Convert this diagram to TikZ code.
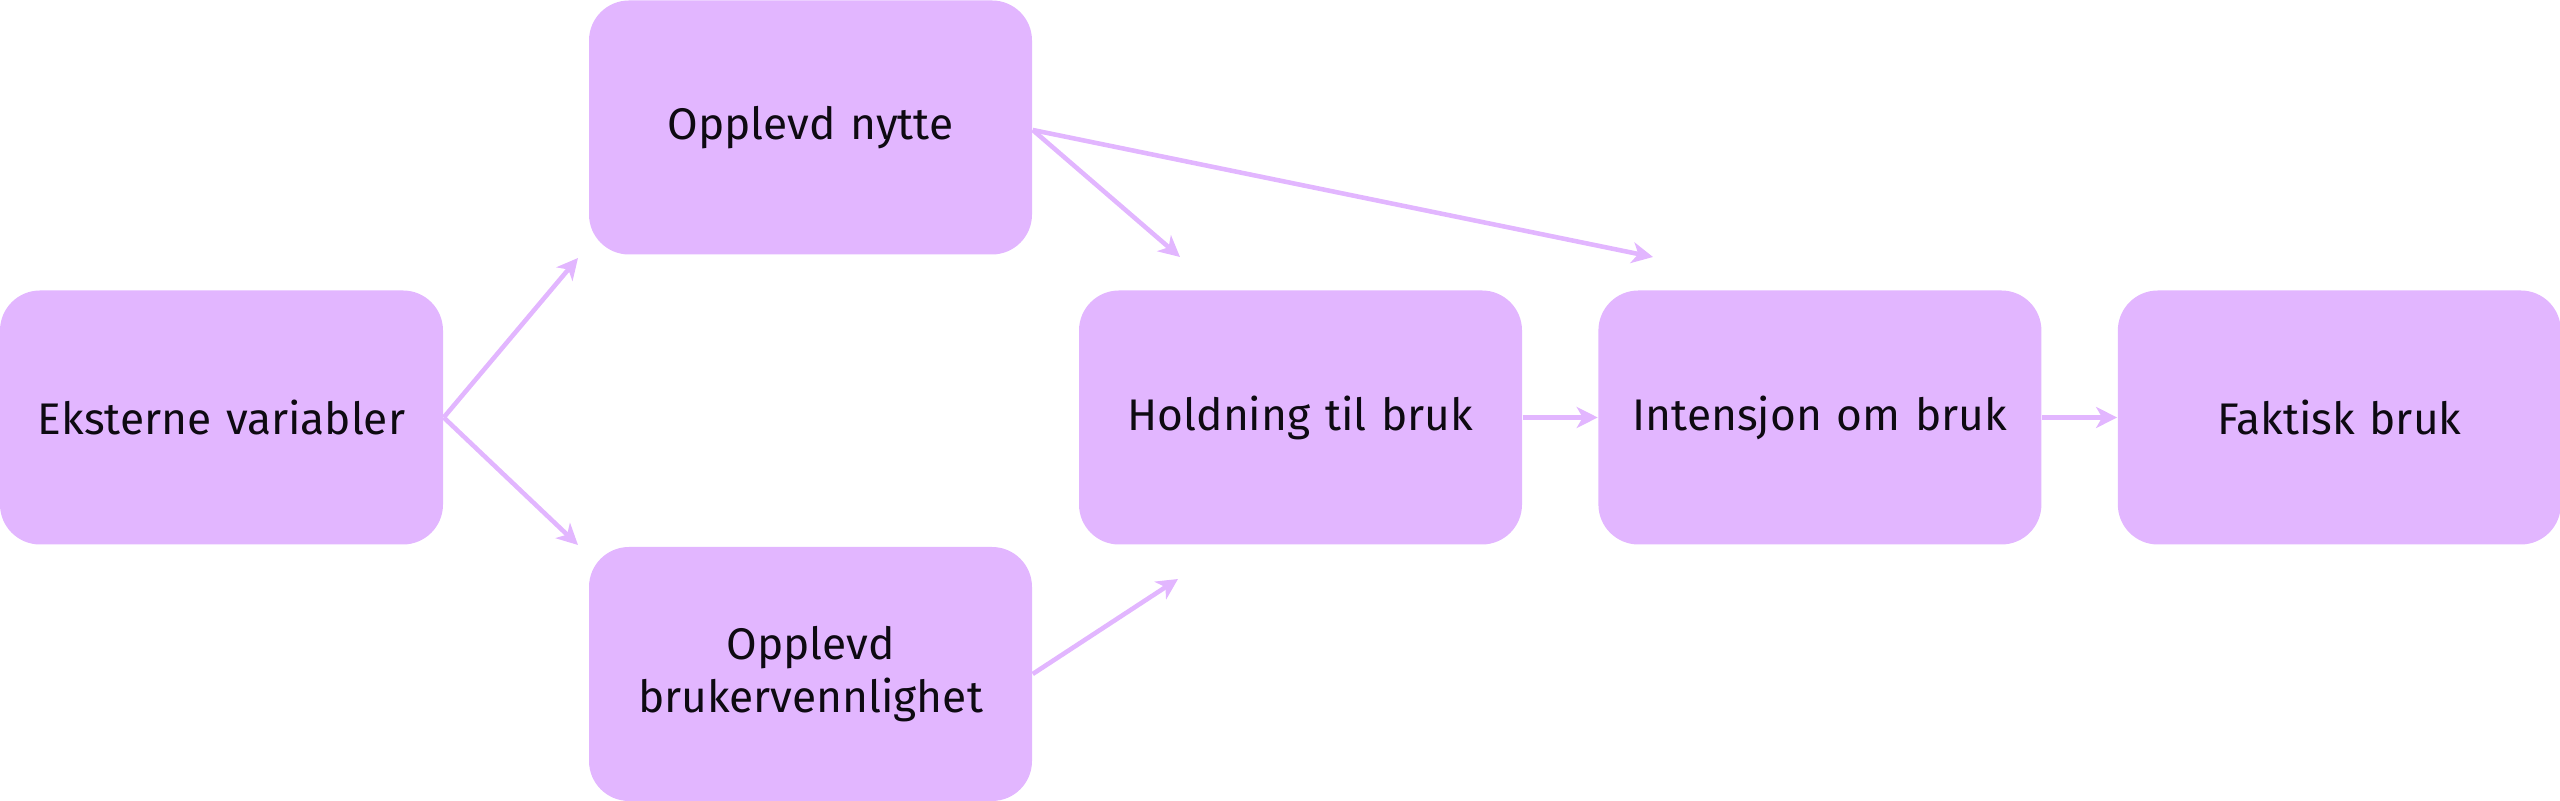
\documentclass[tikz,border=0pt]{standalone}
\usepackage{fontspec}
\setmainfont{Fira Sans}
\usepackage{xcolor}
\usepackage{tikz}
\usetikzlibrary{arrows.meta,positioning}
\definecolor{TLilac}{HTML}{E2B6FF}
\definecolor{TInk}{HTML}{0E0A12}

\begin{document}
\begin{tikzpicture}[
  node distance=0.75cm,
  every node/.style={font=\fontsize{12.6}{15}\selectfont,text=TInk},
  factor/.style={fill=TLilac,rounded corners=0.4cm,minimum width=4.43cm,
    minimum height=2.54cm,text width=4.2cm,align=center,inner sep=0pt},
  arr/.style={-{Stealth[length=2.1mm,width=2.1mm,inset=0.6mm]},line width=1.3pt,color=TLilac}
]
  \useasboundingbox (0,0) rectangle (25.6,-8.01);
  \node[factor] (eks) at (2.215,-4.175) {Eksterne variabler};
  \node[factor] (nytte) at (8.105,-1.275) {Opplevd nytte};
  \node[factor] (bruk) at (8.105,-6.74) {Opplevd\\brukervennlighet};
  \node[factor] (hold) at (13.005,-4.175) {Holdning til bruk};
  \node[factor,right=of hold] (int) {Intensjon om bruk};
  \node[factor,right=of int] (fak) {Faktisk bruk};
  % free ends of the open arrows
  \coordinate (nytteUp) at (5.78,-2.58);
  \coordinate (bruksDn) at (5.78,-5.45);
  \coordinate (holdTop) at (11.80,-2.57);
  \coordinate (intTop) at (16.53,-2.57);
  \coordinate (holdBot) at (11.78,-5.79);
  \draw[arr] (eks.east) -- (nytteUp);
  \draw[arr] (eks.east) -- (bruksDn);
  \draw[arr] ([yshift=-0.25mm]nytte.east) -- (holdTop);
  \draw[arr] ([yshift=-0.25mm]nytte.east) -- (intTop);
  \draw[arr] (bruk.east) -- (holdBot);
  \foreach \x/\y in {hold/int,int/fak}
    {\draw[arr] (\x) -- (\y);}
\end{tikzpicture}
\end{document}
